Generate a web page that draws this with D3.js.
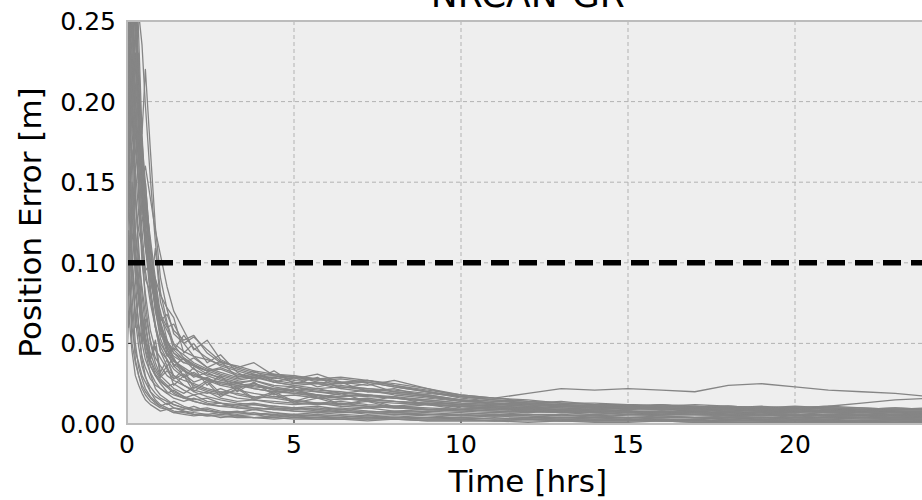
<!DOCTYPE html>
<html><head><meta charset="utf-8">
<script src="https://cdn.jsdelivr.net/npm/d3@7/dist/d3.min.js"></script>
<style>body{margin:0;background:#fff}svg{display:block}text{font-family:"DejaVu Sans",sans-serif;fill:#000}</style>
</head><body><svg id="c" width="922" height="500"></svg>
<script>
const chartTitle = "NRCAN-GR";
const xLabel = "Time [hrs]";
const yLabel = "Position Error [m]";
const xTicks = [0, 5, 10, 15, 20];
const yTicks = [0, 0.05, 0.10, 0.15, 0.20, 0.25];
const threshold = 0.10;
const timeHrs = [0, 0.05, 0.15, 0.25, 0.35, 0.45, 0.55, 0.7, 0.85, 1.0, 1.2, 1.4, 1.7, 2.0, 2.4, 2.8, 3.3, 3.8, 4.4, 5.0, 5.7, 6.4, 7.2, 8.0, 9, 10, 11, 12, 13, 14, 15, 16, 17, 18, 19, 20, 21, 22, 23, 24];
const r01 = [0.320,0.290,0.310,0.270,0.255,0.235,0.198,0.152,0.113,0.082,0.063,0.049,0.041,0.036,0.031,0.029,0.026,0.027,0.024,0.023,0.021,0.020,0.018,0.017,0.015,0.013,0.012,0.011,0.010,0.009,0.010,0.009,0.008,0.009,0.008,0.008,0.007,0.008,0.007,0.007];
const r02 = [0.290,0.330,0.260,0.300,0.240,0.180,0.220,0.170,0.122,0.091,0.071,0.056,0.050,0.054,0.046,0.039,0.035,0.032,0.030,0.029,0.027,0.028,0.026,0.023,0.020,0.017,0.015,0.013,0.012,0.011,0.011,0.010,0.010,0.009,0.009,0.010,0.009,0.009,0.008,0.008];
const r03 = [0.270,0.300,0.280,0.220,0.200,0.175,0.150,0.108,0.081,0.062,0.051,0.046,0.055,0.047,0.041,0.036,0.033,0.030,0.031,0.029,0.028,0.026,0.027,0.024,0.021,0.018,0.016,0.015,0.013,0.012,0.012,0.011,0.011,0.010,0.010,0.010,0.011,0.010,0.009,0.009];
const r04 = [0.330,0.260,0.290,0.310,0.200,0.150,0.120,0.098,0.078,0.062,0.046,0.039,0.035,0.031,0.028,0.025,0.023,0.024,0.021,0.019,0.018,0.016,0.015,0.014,0.013,0.012,0.011,0.010,0.009,0.009,0.008,0.008,0.007,0.007,0.007,0.006,0.006,0.006,0.006,0.005];
const r05 = [0.260,0.220,0.250,0.190,0.140,0.100,0.081,0.058,0.046,0.041,0.034,0.030,0.027,0.025,0.022,0.020,0.019,0.017,0.016,0.014,0.013,0.012,0.011,0.010,0.009,0.009,0.008,0.008,0.007,0.007,0.006,0.006,0.006,0.005,0.005,0.005,0.005,0.004,0.004,0.004];
const r06 = [0.240,0.270,0.210,0.230,0.190,0.160,0.140,0.110,0.080,0.060,0.052,0.040,0.033,0.030,0.027,0.026,0.024,0.022,0.020,0.019,0.017,0.016,0.015,0.014,0.012,0.011,0.010,0.009,0.008,0.008,0.007,0.007,0.007,0.006,0.006,0.006,0.005,0.005,0.005,0.005];
const r07 = [0.200,0.240,0.180,0.160,0.130,0.110,0.090,0.082,0.109,0.076,0.061,0.046,0.040,0.034,0.030,0.027,0.025,0.023,0.022,0.020,0.018,0.016,0.014,0.013,0.012,0.011,0.010,0.009,0.009,0.008,0.008,0.007,0.007,0.007,0.006,0.006,0.006,0.006,0.005,0.005];
const r08 = [0.180,0.150,0.200,0.120,0.090,0.070,0.050,0.036,0.030,0.025,0.020,0.018,0.016,0.014,0.012,0.011,0.010,0.010,0.009,0.008,0.008,0.007,0.007,0.006,0.006,0.005,0.005,0.005,0.004,0.004,0.004,0.004,0.004,0.003,0.003,0.003,0.003,0.003,0.003,0.003];
const r09 = [0.150,0.190,0.130,0.100,0.080,0.060,0.045,0.031,0.022,0.018,0.015,0.012,0.010,0.009,0.008,0.007,0.007,0.006,0.006,0.005,0.005,0.005,0.004,0.004,0.004,0.004,0.003,0.003,0.003,0.003,0.003,0.003,0.002,0.002,0.002,0.002,0.002,0.002,0.002,0.002];
const r10 = [0.120,0.080,0.140,0.090,0.060,0.040,0.030,0.020,0.015,0.012,0.010,0.008,0.007,0.006,0.005,0.005,0.004,0.004,0.004,0.003,0.003,0.003,0.003,0.003,0.002,0.002,0.002,0.002,0.002,0.002,0.002,0.002,0.002,0.002,0.002,0.002,0.002,0.002,0.002,0.002];
const r11 = [0.280,0.250,0.300,0.240,0.210,0.180,0.140,0.100,0.072,0.064,0.068,0.058,0.052,0.055,0.044,0.038,0.036,0.033,0.031,0.030,0.028,0.029,0.027,0.025,0.022,0.018,0.016,0.014,0.013,0.012,0.011,0.012,0.011,0.010,0.011,0.010,0.010,0.009,0.010,0.009];
const r12 = [0.210,0.260,0.230,0.190,0.160,0.130,0.110,0.090,0.075,0.066,0.058,0.050,0.045,0.042,0.040,0.037,0.034,0.031,0.028,0.030,0.026,0.025,0.027,0.024,0.020,0.017,0.015,0.014,0.013,0.013,0.012,0.011,0.012,0.011,0.010,0.011,0.010,0.010,0.009,0.010];
const r13 = [0.250,0.210,0.270,0.200,0.170,0.140,0.120,0.095,0.070,0.056,0.048,0.042,0.038,0.036,0.033,0.034,0.030,0.028,0.029,0.026,0.025,0.024,0.022,0.021,0.019,0.017,0.016,0.019,0.022,0.021,0.022,0.021,0.020,0.024,0.025,0.023,0.021,0.020,0.019,0.017];
const r14 = [0.230,0.280,0.200,0.170,0.150,0.120,0.095,0.075,0.060,0.050,0.043,0.037,0.033,0.030,0.028,0.026,0.024,0.025,0.022,0.021,0.020,0.018,0.017,0.016,0.014,0.012,0.011,0.010,0.010,0.009,0.010,0.009,0.009,0.010,0.009,0.010,0.011,0.013,0.015,0.016];
const r15 = [0.300,0.270,0.240,0.260,0.190,0.140,0.110,0.090,0.075,0.060,0.047,0.036,0.030,0.024,0.021,0.019,0.016,0.015,0.014,0.013,0.012,0.013,0.011,0.010,0.009,0.009,0.008,0.007,0.008,0.007,0.006,0.007,0.006,0.006,0.005,0.006,0.005,0.005,0.006,0.005];
const r16 = [0.170,0.210,0.150,0.120,0.100,0.085,0.068,0.052,0.041,0.036,0.030,0.027,0.024,0.021,0.019,0.022,0.018,0.016,0.017,0.015,0.013,0.014,0.012,0.011,0.010,0.009,0.010,0.008,0.009,0.008,0.008,0.007,0.008,0.007,0.007,0.008,0.007,0.006,0.007,0.006];
const r17 = [0.100,0.140,0.090,0.070,0.055,0.042,0.035,0.028,0.024,0.022,0.019,0.021,0.017,0.015,0.016,0.013,0.012,0.013,0.011,0.010,0.011,0.009,0.010,0.008,0.009,0.008,0.007,0.008,0.007,0.006,0.007,0.006,0.006,0.005,0.006,0.005,0.005,0.005,0.004,0.005];
const r18 = [0.080,0.110,0.060,0.045,0.038,0.030,0.026,0.020,0.017,0.015,0.012,0.014,0.011,0.009,0.010,0.008,0.007,0.009,0.007,0.006,0.007,0.006,0.005,0.006,0.005,0.004,0.005,0.004,0.004,0.003,0.004,0.003,0.003,0.004,0.003,0.003,0.003,0.002,0.003,0.003];
const r19 = [0.050,0.090,0.070,0.040,0.030,0.022,0.018,0.014,0.012,0.010,0.009,0.007,0.008,0.006,0.005,0.006,0.005,0.004,0.005,0.004,0.004,0.003,0.004,0.003,0.003,0.003,0.002,0.003,0.002,0.002,0.002,0.003,0.002,0.002,0.002,0.001,0.002,0.002,0.001,0.002];
const r20 = [0.220,0.190,0.230,0.180,0.150,0.110,0.075,0.050,0.038,0.030,0.026,0.022,0.019,0.023,0.020,0.018,0.021,0.019,0.017,0.018,0.016,0.015,0.016,0.014,0.013,0.012,0.011,0.010,0.011,0.010,0.009,0.010,0.009,0.009,0.008,0.009,0.008,0.008,0.008,0.007];
const r21 = [0.310,0.280,0.320,0.290,0.200,0.150,0.110,0.080,0.060,0.045,0.040,0.030,0.024,0.020,0.017,0.015,0.013,0.012,0.011,0.010,0.009,0.010,0.008,0.007,0.008,0.007,0.006,0.006,0.005,0.006,0.005,0.005,0.004,0.005,0.004,0.004,0.004,0.004,0.003,0.004];
const r22 = [0.190,0.160,0.220,0.140,0.110,0.080,0.060,0.044,0.035,0.029,0.033,0.028,0.031,0.026,0.029,0.024,0.022,0.025,0.021,0.023,0.020,0.019,0.021,0.018,0.016,0.014,0.013,0.012,0.011,0.010,0.011,0.010,0.009,0.010,0.009,0.008,0.009,0.008,0.008,0.008];
const r23 = [0.140,0.170,0.120,0.095,0.075,0.058,0.046,0.036,0.030,0.026,0.023,0.025,0.021,0.018,0.020,0.016,0.014,0.015,0.013,0.012,0.013,0.011,0.010,0.011,0.009,0.008,0.009,0.008,0.007,0.008,0.007,0.007,0.006,0.007,0.006,0.006,0.005,0.006,0.005,0.005];
const r24 = [0.340,0.300,0.330,0.280,0.210,0.170,0.130,0.100,0.080,0.070,0.052,0.044,0.038,0.041,0.035,0.032,0.029,0.031,0.027,0.025,0.026,0.023,0.022,0.020,0.018,0.015,0.013,0.012,0.011,0.010,0.010,0.009,0.009,0.008,0.008,0.008,0.007,0.007,0.007,0.006];
const r25 = [0.060,0.120,0.080,0.050,0.035,0.028,0.022,0.017,0.014,0.011,0.013,0.010,0.009,0.011,0.008,0.007,0.008,0.006,0.007,0.005,0.006,0.005,0.004,0.005,0.004,0.004,0.003,0.004,0.003,0.003,0.003,0.002,0.003,0.002,0.003,0.002,0.002,0.002,0.002,0.002];
const r26 = [0.270,0.240,0.200,0.230,0.180,0.150,0.120,0.085,0.062,0.048,0.040,0.034,0.029,0.032,0.027,0.024,0.026,0.022,0.020,0.021,0.018,0.017,0.018,0.016,0.014,0.012,0.011,0.010,0.009,0.009,0.008,0.008,0.007,0.008,0.007,0.007,0.006,0.007,0.006,0.006];
const r27 = [0.160,0.130,0.170,0.110,0.085,0.065,0.052,0.040,0.033,0.028,0.024,0.020,0.017,0.014,0.012,0.013,0.010,0.009,0.010,0.008,0.007,0.008,0.006,0.007,0.006,0.005,0.006,0.005,0.004,0.005,0.004,0.004,0.004,0.003,0.004,0.003,0.003,0.004,0.003,0.003];
const r28 = [0.290,0.250,0.280,0.240,0.205,0.170,0.135,0.098,0.071,0.053,0.042,0.047,0.043,0.038,0.034,0.031,0.028,0.030,0.026,0.024,0.025,0.022,0.020,0.019,0.017,0.015,0.014,0.013,0.012,0.011,0.012,0.011,0.010,0.011,0.010,0.009,0.010,0.009,0.009,0.009];
const r29 = [0.110,0.160,0.100,0.080,0.062,0.050,0.040,0.032,0.026,0.022,0.019,0.016,0.014,0.016,0.013,0.011,0.012,0.010,0.009,0.010,0.008,0.009,0.007,0.008,0.007,0.006,0.007,0.006,0.006,0.005,0.006,0.005,0.005,0.005,0.004,0.005,0.004,0.004,0.004,0.004];
const r30 = [0.090,0.060,0.100,0.065,0.048,0.036,0.029,0.023,0.019,0.016,0.014,0.012,0.010,0.008,0.009,0.007,0.006,0.007,0.005,0.006,0.005,0.004,0.005,0.004,0.004,0.003,0.004,0.003,0.003,0.002,0.003,0.002,0.002,0.003,0.002,0.002,0.002,0.002,0.001,0.002];
const r31 = [0.300,0.320,0.290,0.250,0.200,0.150,0.120,0.100,0.088,0.064,0.049,0.039,0.034,0.029,0.032,0.028,0.025,0.027,0.023,0.021,0.022,0.019,0.018,0.016,0.015,0.013,0.012,0.011,0.012,0.011,0.010,0.009,0.010,0.009,0.008,0.009,0.008,0.008,0.008,0.007];
const r32 = [0.070,0.100,0.050,0.038,0.030,0.024,0.020,0.016,0.013,0.011,0.009,0.010,0.008,0.007,0.006,0.007,0.005,0.006,0.004,0.005,0.004,0.004,0.003,0.004,0.003,0.003,0.002,0.003,0.002,0.002,0.002,0.002,0.001,0.002,0.002,0.001,0.002,0.001,0.001,0.002];
const r33 = [0.250,0.290,0.240,0.260,0.170,0.140,0.150,0.110,0.085,0.058,0.044,0.036,0.041,0.037,0.033,0.035,0.031,0.029,0.030,0.027,0.028,0.025,0.026,0.023,0.020,0.016,0.014,0.013,0.012,0.011,0.010,0.011,0.010,0.009,0.010,0.009,0.008,0.009,0.008,0.008];
const r34 = [0.130,0.100,0.150,0.105,0.082,0.064,0.050,0.039,0.031,0.027,0.023,0.019,0.016,0.018,0.014,0.013,0.011,0.012,0.010,0.009,0.010,0.008,0.008,0.007,0.006,0.006,0.005,0.006,0.005,0.005,0.004,0.005,0.004,0.004,0.004,0.003,0.004,0.003,0.003,0.003];
const r35 = [0.040,0.070,0.045,0.030,0.024,0.019,0.015,0.012,0.010,0.008,0.009,0.007,0.006,0.005,0.006,0.004,0.005,0.004,0.003,0.004,0.003,0.003,0.002,0.003,0.002,0.002,0.002,0.001,0.002,0.001,0.001,0.002,0.001,0.001,0.001,0.001,0.001,0.001,0.001,0.001];
const r36 = [0.260,0.230,0.270,0.210,0.185,0.155,0.125,0.092,0.072,0.060,0.050,0.044,0.040,0.036,0.033,0.030,0.027,0.029,0.026,0.024,0.022,0.023,0.021,0.019,0.017,0.014,0.013,0.012,0.011,0.011,0.010,0.010,0.009,0.009,0.009,0.008,0.008,0.008,0.007,0.007];
const r37 = [0.180,0.230,0.160,0.190,0.170,0.150,0.160,0.140,0.120,0.105,0.085,0.070,0.058,0.046,0.052,0.040,0.035,0.038,0.030,0.028,0.031,0.026,0.024,0.027,0.022,0.017,0.015,0.013,0.014,0.012,0.011,0.012,0.010,0.011,0.010,0.009,0.010,0.009,0.010,0.009];
const r38 = [0.120,0.260,0.210,0.140,0.120,0.110,0.095,0.100,0.090,0.080,0.072,0.066,0.044,0.050,0.038,0.043,0.032,0.027,0.033,0.025,0.029,0.022,0.025,0.020,0.018,0.015,0.012,0.013,0.011,0.010,0.012,0.010,0.009,0.010,0.008,0.009,0.008,0.009,0.008,0.008];
const r39 = [0.200,0.170,0.260,0.150,0.100,0.070,0.055,0.040,0.048,0.030,0.036,0.024,0.030,0.020,0.026,0.017,0.022,0.015,0.019,0.013,0.016,0.012,0.014,0.010,0.012,0.009,0.011,0.008,0.009,0.007,0.008,0.006,0.008,0.006,0.007,0.005,0.006,0.005,0.006,0.005];
const r40 = [0.280,0.220,0.190,0.210,0.160,0.130,0.140,0.115,0.090,0.068,0.060,0.062,0.050,0.042,0.035,0.039,0.029,0.033,0.026,0.029,0.023,0.026,0.020,0.022,0.017,0.015,0.013,0.011,0.012,0.010,0.009,0.010,0.008,0.009,0.008,0.007,0.008,0.007,0.007,0.006];
const r41 = [0.090,0.150,0.110,0.060,0.080,0.050,0.065,0.040,0.052,0.032,0.040,0.028,0.034,0.022,0.027,0.019,0.023,0.016,0.020,0.014,0.018,0.012,0.015,0.011,0.013,0.010,0.009,0.010,0.008,0.009,0.007,0.008,0.007,0.006,0.007,0.006,0.005,0.006,0.005,0.005];
const r42 = [0.240,0.300,0.250,0.200,0.230,0.160,0.120,0.080,0.060,0.045,0.036,0.041,0.029,0.035,0.024,0.030,0.020,0.026,0.018,0.022,0.016,0.019,0.014,0.017,0.012,0.011,0.009,0.010,0.008,0.007,0.008,0.006,0.007,0.006,0.005,0.006,0.005,0.004,0.005,0.004];
const runs = [r01,r02,r03,r04,r05,r06,r07,r08,r09,r10,r11,r12,r13,r14,r15,r16,r17,r18,r19,r20,r21,r22,r23,r24,r25,r26,r27,r28,r29,r30,r31,r32,r33,r34,r35,r36,r37,r38,r39,r40,r41,r42];

const svg = d3.select("#c");
const L = 127, T = 21, B = 424, R = 928.6;
const x = d3.scaleLinear().domain([0, 24]).range([L, R]);
const y = d3.scaleLinear().domain([0, 0.25]).range([B, T]);

svg.append("defs").append("clipPath").attr("id","clip")
  .append("rect").attr("x", L).attr("y", T).attr("width", R - L).attr("height", B - T);

svg.append("rect").attr("x", L).attr("y", T).attr("width", R - L).attr("height", B - T).attr("fill", "#eeeeee");

const grid = svg.append("g").attr("stroke", "#b2b2b2").attr("stroke-width", 1).attr("stroke-dasharray", "4,3");
grid.selectAll(".gx").data(xTicks.filter(d => d > 0)).join("line")
  .attr("x1", d => x(d)).attr("x2", d => x(d)).attr("y1", T).attr("y2", B);
grid.selectAll(".gy").data(yTicks.filter(d => d > 0 && d < 0.25)).join("line")
  .attr("y1", d => y(d)).attr("y2", d => y(d)).attr("x1", L).attr("x2", R);

const tk = svg.append("g").attr("stroke", "#222").attr("stroke-width", 1);
tk.selectAll(".tx").data(xTicks).join("line")
  .attr("x1", d => x(d)).attr("x2", d => x(d)).attr("y1", B).attr("y2", B - 4);
tk.selectAll(".ty").data(yTicks).join("line")
  .attr("y1", d => y(d)).attr("y2", d => y(d)).attr("x1", L).attr("x2", L + 4);

const line = d3.line().x((d, i) => x(timeHrs[i])).y(d => y(d));
svg.append("g").attr("clip-path", "url(#clip)")
  .selectAll("path").data(runs).join("path")
  .attr("d", line).attr("fill", "none").attr("stroke", "#858585").attr("stroke-width", 1.3)
  .attr("stroke-linejoin", "round");

svg.append("line").attr("clip-path", "url(#clip)")
  .attr("x1", x(0)).attr("x2", x(24)).attr("y1", y(threshold)).attr("y2", y(threshold))
  .attr("stroke", "#000").attr("stroke-width", 5.5).attr("stroke-dasharray", "18,10");

svg.append("rect").attr("x", L).attr("y", T).attr("width", R - L).attr("height", B - T)
  .attr("fill", "none").attr("stroke", "#bcbcbc").attr("stroke-width", 2);

const fmt = d3.format(".2f");
svg.append("g").selectAll("text").data(yTicks).join("text")
  .attr("x", L - 11).attr("y", d => y(d)).attr("dy", "0.36em")
  .attr("text-anchor", "end").attr("font-size", 25).text(d => fmt(d));
svg.append("g").selectAll("text").data(xTicks).join("text")
  .attr("x", d => x(d)).attr("y", 453)
  .attr("text-anchor", "middle").attr("font-size", 25).text(d => d);

svg.append("text").attr("x", (L + R) / 2).attr("y", 492).attr("text-anchor", "middle")
  .attr("font-size", 31).text(xLabel);
svg.append("text").attr("transform", `translate(41,${(T + B) / 2}) rotate(-90)`)
  .attr("text-anchor", "middle").attr("font-size", 31).text(yLabel);
svg.append("text").attr("x", (L + R) / 2).attr("y", 7).attr("text-anchor", "middle")
  .attr("font-size", 36).text(chartTitle);
</script></body></html>
